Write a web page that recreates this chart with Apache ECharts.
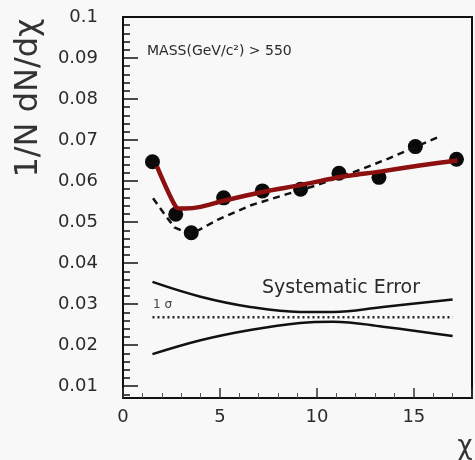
<!DOCTYPE html>
<html lang="en">

<head>
    <meta charset="UTF-8">
    <title>1/N dN/dχ</title>
    <style>
        html, body { margin: 0; padding: 0; background: #f8f8f8; }
        #main { width: 475px; height: 460px; }
    </style>
</head>

<body>
    <div id="main"></div>

    <script src="https://cdn.jsdelivr.net/npm/echarts@6/dist/echarts.min.js"></script>
    <script>
        // measured points (chi, 1/N dN/dchi)
        var dataX = [1.52, 2.72, 3.52, 5.19, 7.19, 9.16, 11.14, 13.2, 15.08, 17.2];
        var dataY = [0.0647, 0.0519, 0.0474, 0.0559, 0.0576, 0.0580, 0.0619, 0.0609, 0.0684, 0.0653];

        // QCD prediction (red)
        var qcdX = [1.75, 2.75, 3.2, 4.0, 5.2, 7.25, 9.15, 11.2, 13.25, 15.3, 17.25];
        var qcdY = [0.0636, 0.0536, 0.0533, 0.0537, 0.0552, 0.0574, 0.0590, 0.0610, 0.0623, 0.0638, 0.0650];

        // dashed curve
        var dashX = [1.55, 2.05, 2.65, 3.5, 4.9, 6.6, 8.45, 10.0, 12.2, 13.75, 16.3];
        var dashY = [0.0558, 0.0525, 0.0487, 0.0470, 0.0506, 0.0541, 0.0568, 0.0590, 0.0627, 0.0656, 0.0708];

        // systematic error band
        var sysX = [1.52, 4.0, 6.56, 9.13, 10.84, 13.4, 17.0];
        var sysUp = [0.0354, 0.0318, 0.0293, 0.0281, 0.0281, 0.0293, 0.0311];
        var sysLow = [0.0178, 0.0212, 0.0237, 0.0254, 0.0257, 0.0245, 0.0222];
        var sigmaX = [1.52, 17.0];
        var sigmaY = [0.0268, 0.0268];

        function pairs(xs, ys) {
            var out = [];
            for (var i = 0; i < xs.length; i++) {
                out.push([xs[i], ys[i]]);
            }
            return out;
        }

        var chart = echarts.init(document.getElementById('main'));

        var font = 'DejaVu Sans';
        var ink = '#2a2a2a';

        var option = {
            backgroundColor: '#f8f8f8',
            animation: false,
            grid: {
                left: 123,
                right: 3,
                top: 17,
                bottom: 62,
                show: true,
                borderColor: '#111',
                borderWidth: 2,
                outerBoundsMode: 'none'
            },
            xAxis: {
                type: 'value',
                min: 0,
                max: 18,
                interval: 5,
                splitLine: { show: false },
                axisLine: { lineStyle: { color: '#111', width: 2 } },
                axisTick: { inside: true, length: 10, lineStyle: { color: '#333', width: 1.5 } },
                minorTick: { show: true, splitNumber: 5, length: 5, lineStyle: { color: '#555' } },
                axisLabel: {
                    showMaxLabel: false,
                    margin: 10,
                    fontFamily: font,
                    fontSize: 18,
                    color: ink
                }
            },
            yAxis: {
                type: 'value',
                min: 0.0071,
                max: 0.1,
                splitNumber: 10,
                splitLine: { show: false },
                axisLine: { lineStyle: { color: '#111', width: 2 } },
                axisTick: { inside: true, length: 15, lineStyle: { color: '#111', width: 1.5 } },
                minorTick: { show: true, splitNumber: 5, length: 7, lineStyle: { color: '#111', width: 1.5 } },
                axisLabel: {
                    showMinLabel: false,
                    margin: 25,
                    fontFamily: font,
                    fontSize: 18,
                    color: ink
                }
            },
            graphic: [
                {
                    type: 'text',
                    x: 29,
                    y: 98,
                    rotation: Math.PI / 2,
                    style: {
                        text: '1/N dN/dχ',
                        font: '32px "DejaVu Sans"',
                        fill: '#333',
                        textAlign: 'center',
                        textVerticalAlign: 'middle'
                    }
                },
                {
                    type: 'text',
                    x: 465,
                    y: 447,
                    style: {
                        text: 'χ',
                        font: '26px "DejaVu Sans"',
                        fill: '#333',
                        textAlign: 'center',
                        textVerticalAlign: 'middle'
                    }
                },
                {
                    type: 'text',
                    x: 147,
                    y: 51,
                    style: {
                        text: 'MASS(GeV/c²) > 550',
                        font: '14px "DejaVu Sans"',
                        fill: ink,
                        textVerticalAlign: 'middle'
                    }
                },
                {
                    type: 'text',
                    x: 262,
                    y: 288,
                    style: {
                        text: 'Systematic Error',
                        font: '19px "DejaVu Sans"',
                        fill: ink,
                        textVerticalAlign: 'middle'
                    }
                },
                {
                    type: 'text',
                    x: 153,
                    y: 305,
                    style: {
                        text: '1 σ',
                        font: '12px "DejaVu Sans"',
                        fill: '#444',
                        textVerticalAlign: 'middle'
                    }
                }
            ],
            series: [
                {
                    name: 'sys upper',
                    type: 'line',
                    smooth: 0.4,
                    symbol: 'none',
                    lineStyle: { color: '#111', width: 2.5 },
                    data: pairs(sysX, sysUp)
                },
                {
                    name: 'sys lower',
                    type: 'line',
                    smooth: 0.4,
                    symbol: 'none',
                    lineStyle: { color: '#111', width: 2.5 },
                    data: pairs(sysX, sysLow)
                },
                {
                    name: '1 sigma',
                    type: 'line',
                    symbol: 'none',
                    lineStyle: { color: '#222', width: 2.5, type: [2, 3] },
                    data: pairs(sigmaX, sigmaY)
                },
                {
                    name: 'dashed',
                    type: 'line',
                    symbol: 'none',
                    lineStyle: { color: '#111', width: 2.5, type: [7, 5] },
                    data: pairs(dashX, dashY)
                },
                {
                    name: 'QCD',
                    type: 'line',
                    smooth: 0.2,
                    symbol: 'none',
                    lineStyle: { color: '#8c1010', width: 4.5 },
                    data: pairs(qcdX, qcdY)
                },
                {
                    name: 'data',
                    type: 'scatter',
                    symbol: 'circle',
                    symbolSize: 15,
                    itemStyle: { color: '#0a0a0a', opacity: 1 },
                    data: pairs(dataX, dataY)
                }
            ]
        };

        chart.setOption(option);
    </script>
</body>

</html>
